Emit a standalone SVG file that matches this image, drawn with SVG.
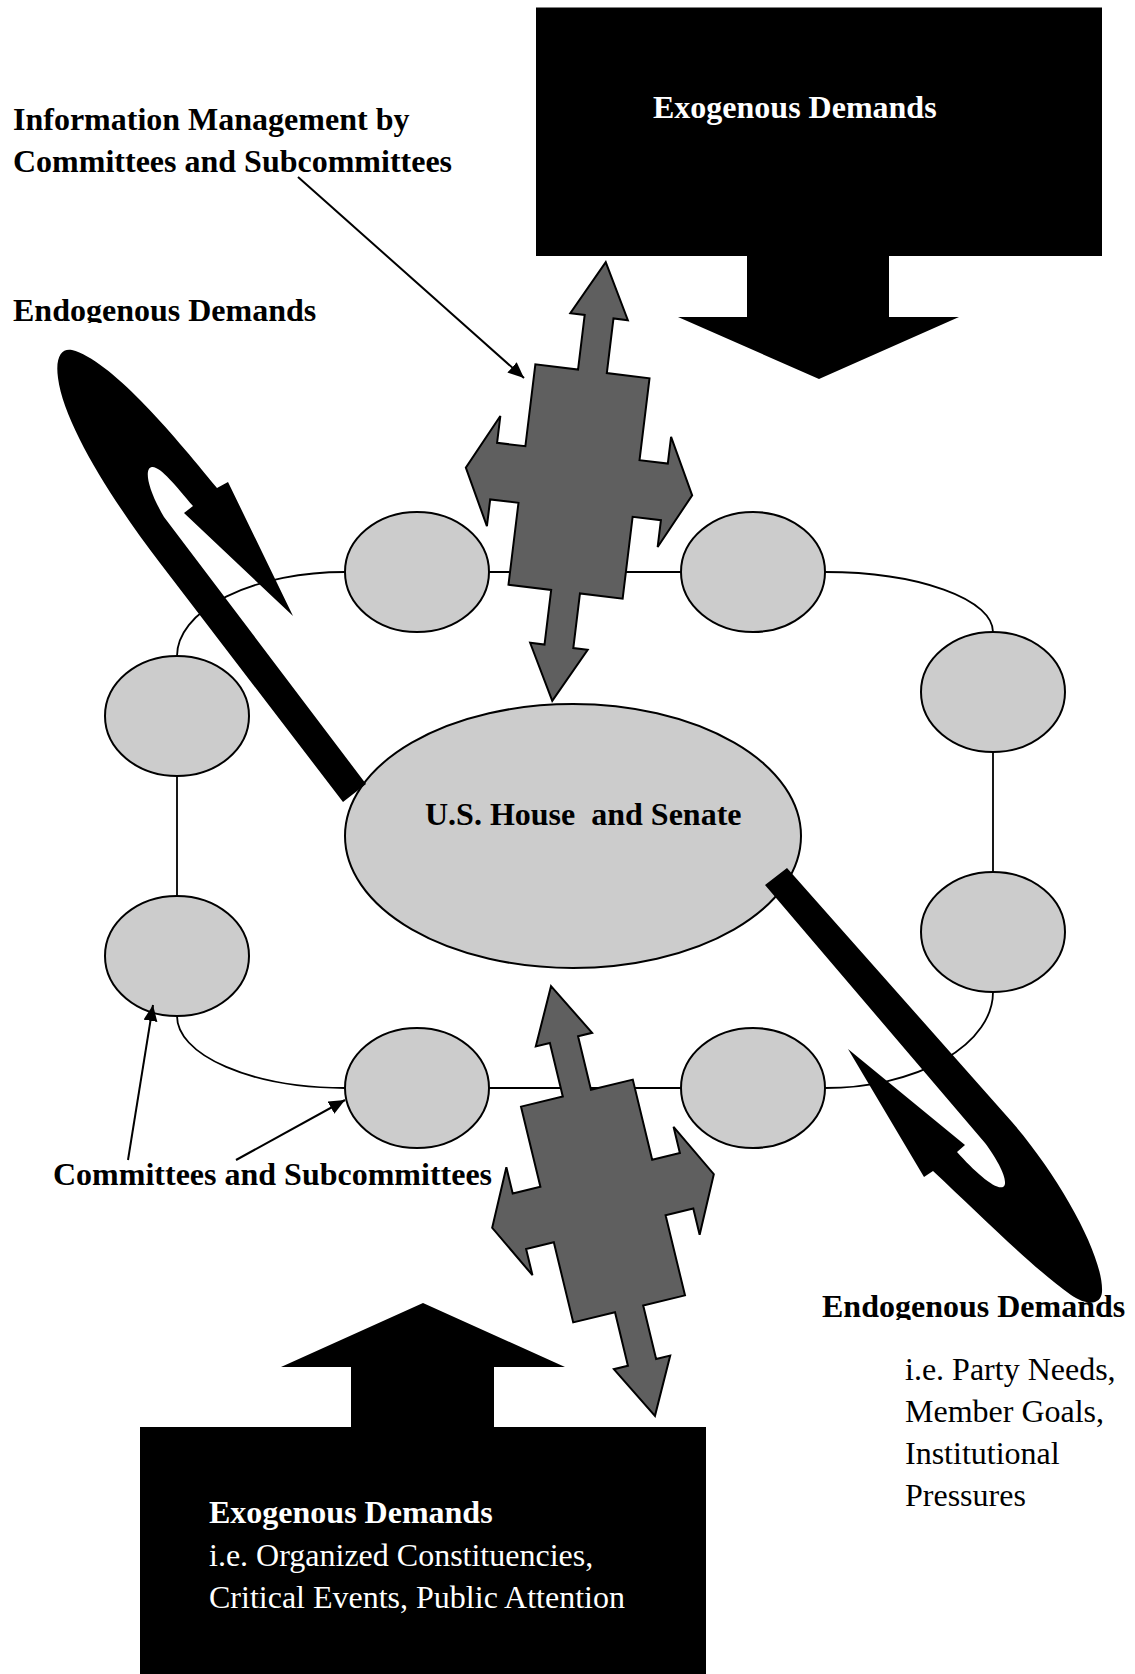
<svg xmlns="http://www.w3.org/2000/svg" width="1135" height="1674" viewBox="0 0 1135 1674">
<style>
.t{font-family:"Liberation Serif","Times New Roman",serif;font-size:32px;fill:#000}
.b{font-weight:bold}
.w{fill:#fff}
.ell{fill:#cccccc;stroke:#000;stroke-width:2}
.ring{fill:none;stroke:#000;stroke-width:1.8}
.gray{fill:#5f5f5f;stroke:#000;stroke-width:2;stroke-linejoin:miter}
.blk{fill:#000}
.lead{fill:none;stroke:#000;stroke-width:2;marker-end:url(#ah)}
</style>
<defs>
<marker id="ah" markerUnits="userSpaceOnUse" markerWidth="18" markerHeight="16" refX="16" refY="7" orient="auto">
<path d="M0,0 L16,7 L0,14 Z" fill="#000"/>
</marker>
<polygon id="cross" points="0,-221 29,-166 14.5,-166 14.5,-111 57.5,-111 57.5,-28.5 86,-28.5 86,-55.5 114,0 86,55.5 86,28.5 57.5,28.5 57.5,111 14.5,111 14.5,166 29,166 0,221 -29,166 -14.5,166 -14.5,111 -57.5,111 -57.5,28.5 -86,28.5 -86,55.5 -114,0 -86,-55.5 -86,-28.5 -57.5,-28.5 -57.5,-111 -14.5,-111 -14.5,-166 -29,-166"/>
<clipPath id="clipL"><rect x="0" y="280" width="400" height="43"/></clipPath>
<clipPath id="clipR"><rect x="800" y="1270" width="335" height="50"/></clipPath>
</defs>

<g id="connectors">
<path id="ring" class="ring" d="M345,572 L825,572 A168,60 0 0 1 993,632 L993,992 A168,96 0 0 1 825,1088 L345,1088 A168,72 0 0 1 177,1016 L177,656 A168,84 0 0 1 345,572 Z"/>
</g>

<g id="committees">
<ellipse id="c1" class="ell" cx="417" cy="572" rx="72" ry="60"/>
<ellipse id="c2" class="ell" cx="753" cy="572" rx="72" ry="60"/>
<ellipse id="c3" class="ell" cx="993" cy="692" rx="72" ry="60"/>
<ellipse id="c4" class="ell" cx="993" cy="932" rx="72" ry="60"/>
<ellipse id="c5" class="ell" cx="177" cy="716" rx="72" ry="60"/>
<ellipse id="c6" class="ell" cx="177" cy="956" rx="72" ry="60"/>
<ellipse id="c7" class="ell" cx="417" cy="1088" rx="72" ry="60"/>
<ellipse id="c8" class="ell" cx="753" cy="1088" rx="72" ry="60"/>
</g>

<g id="congress">
<ellipse class="ell" cx="573" cy="836" rx="228" ry="132"/>
<text class="t b" x="425" y="825" style="white-space:pre">U.S. House  and Senate</text>
</g>

<g id="endogenous-left">
<path class="blk" d="M343,802 L160,563 C114,503 64,425 58,378 C55,356 62,348 72,350 C110,360 170,430 217,488 L228,482 L293,616 L184,513 L193,506 C176,486 160,466 152,467 C144,468 147,488 164,517 L366,784 Z"/>
<text class="t b" x="13" y="321" clip-path="url(#clipL)">Endogenous Demands</text>
</g>

<g id="endogenous-right">
<path class="blk" d="M765,885 L787,868 L1012,1122 C1062,1180 1104,1258 1102,1292 C1101,1305 1087,1306 1071,1295 C1033,1268 980,1215 933,1171 L924,1177 L848,1049 L965,1145 L957,1152 C975,1172 995,1190 1003,1187 C1010,1183 998,1160 985,1143 Z"/>
<text class="t b" x="822" y="1317" clip-path="url(#clipR)">Endogenous Demands</text>
<text class="t" x="905" y="1380">i.e. Party Needs,</text>
<text class="t" x="905" y="1422">Member Goals,</text>
<text class="t" x="905" y="1464">Institutional</text>
<text class="t" x="905" y="1506">Pressures</text>
</g>

<g id="info-top">
<use href="#cross" class="gray" transform="translate(579,481.5) rotate(6.95)"/>
</g>
<g id="info-bottom">
<use href="#cross" class="gray" transform="translate(603,1201) rotate(-13.6)"/>
</g>

<g id="exogenous-top">
<path class="blk" d="M536,7.5 H1102 V256 H889 V317 H959 L819,379 L678,317 H747 V256 H536 Z"/>
<text class="t b w" x="653" y="118">Exogenous Demands</text>
</g>

<g id="exogenous-bottom">
<path class="blk" d="M140,1427 H351 V1367 H281 L423,1303 L565,1367 H494 V1427 H706 V1674 H140 Z"/>
<text class="t b w" x="209" y="1523">Exogenous Demands</text>
<text class="t w" x="209" y="1566">i.e. Organized Constituencies,</text>
<text class="t w" x="209" y="1608">Critical Events, Public Attention</text>
</g>

<g id="label-info">
<text class="t b" x="13" y="130">Information Management by</text>
<text class="t b" x="13" y="172">Committees and Subcommittees</text>
</g>
<g id="label-committees">
<text class="t b" x="53" y="1185">Committees and Subcommittees</text>
</g>

<g id="leaders">
<path class="lead" d="M298,177 L524,378"/>
<path class="lead" d="M128,1160 L153,1005"/>
<path class="lead" d="M236,1160 L345,1100"/>
</g>
</svg>
